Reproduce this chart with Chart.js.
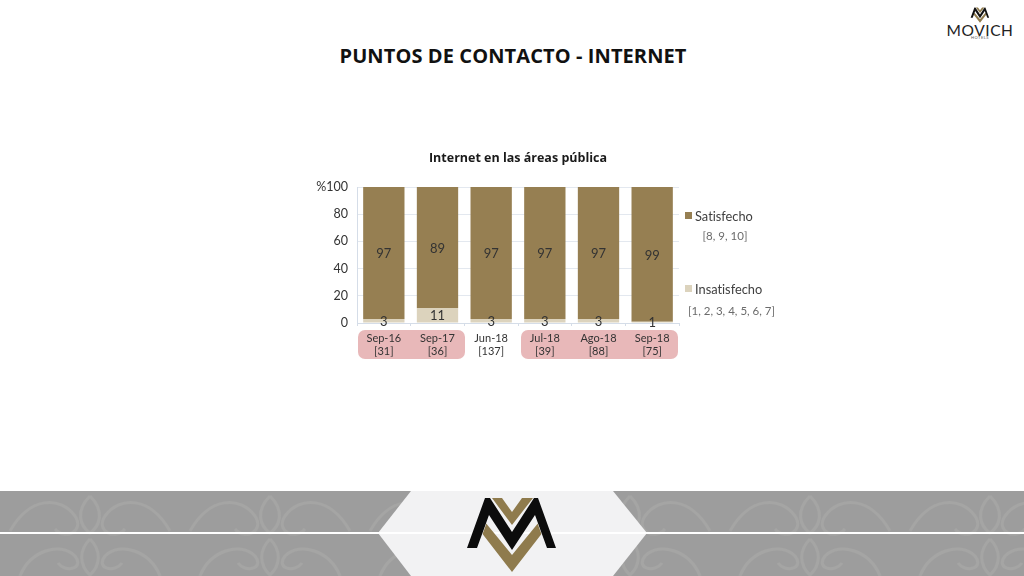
<!DOCTYPE html>
<html lang="es">
<head>
<meta charset="utf-8">
<title>Puntos de contacto - Internet</title>
<script src="https://cdn.jsdelivr.net/npm/chart.js@4"></script>
<style>
  html, body { margin: 0; padding: 0; background: #fff; }
  #page { position: relative; width: 1024px; height: 576px; overflow: hidden; font-family: Lato, "Open Sans", sans-serif; font-variant-ligatures: none; }
  #page > * { position: absolute; }
  #grafico { left: 0; top: 0; width: 1024px; height: 576px; }
  h1 { margin: 0; left: 0; width: 1026px; top: 42px; text-align: center; font: bold 20px/28px "Open Sans", sans-serif; color: #111; letter-spacing: .1px; }
  .pill { background: #e8b8b9; border-radius: 7px; top: 330px; height: 29px; }
  .leg { font-size: 12.8px; color: #404040; white-space: nowrap; }
  .leg i { position: absolute; left: 0; top: 4px; width: 7px; height: 7px; }
  .leg span { position: absolute; left: 10px; top: 0; }
  .sub { font-size: 11.5px; color: #6b6b6b; text-align: center; white-space: nowrap; }
  .marca { left: 940px; top: 22px; width: 80px; text-align: center; font: 15.5px/16px Lato, sans-serif; color: #222; letter-spacing: .6px; }
  .hoteles { left: 940px; top: 36px; width: 80px; text-align: center; font: 4px/4px Lato, sans-serif; color: #555; letter-spacing: .5px; }
</style>
</head>
<body>
<div id="page">
  <h1>PUNTOS DE CONTACTO - INTERNET</h1>

  <svg style="left:970px;top:7px" width="20" height="16" viewBox="466 496 92 77">
    <polygon points="492,498 502,498 512,512 522,498 533,498 512,525" fill="#8f7b4d"/>
    <polygon points="485,522 512,555 539,522 543,532 512,572 481,532" fill="#8f7b4d"/>
    <polygon points="467,548 485,498 490,498 512,532 534,498 538,498 556,548 547,548 535,515 512,550 489,515 477,548" fill="#111"/>
  </svg>
  <div class="marca">MOVICH</div>
  <div class="hoteles">HOTELS</div>

  <div class="pill" style="left:358px;width:107px"></div>
  <div class="pill" style="left:521px;width:157px"></div>

  <svg style="left:0;top:491px" width="1024" height="85" viewBox="0 491 1024 85">
    <defs>
      <pattern id="damasco" x="0" y="491" width="180" height="85" patternUnits="userSpaceOnUse">
        <g fill="none" stroke="#a5a5a4" stroke-width="3">
          <path d="M10 40 C30 5 60 5 75 25 C85 40 65 50 55 38"/>
          <path d="M170 40 C150 5 120 5 105 25 C95 40 115 50 125 38"/>
          <path d="M90 5 C75 20 80 35 90 42 C100 35 105 20 90 5"/>
          <path d="M20 85 C30 60 60 50 75 65 C85 78 65 82 58 72"/>
          <path d="M160 85 C150 60 120 50 105 65 C95 78 115 82 122 72"/>
          <path d="M90 48 C78 60 80 75 90 84 C100 75 102 60 90 48"/>
        </g>
      </pattern>
    </defs>
    <rect x="0" y="491" width="1024" height="85" fill="#9d9d9d"/>
    <rect x="0" y="491" width="1024" height="85" fill="url(#damasco)"/>
    <polygon points="411,491 613,491 647,533 613,576 411,576 378,533" fill="#f2f2f3"/>
    <rect x="0" y="532" width="1024" height="2" fill="#fff"/>
    <polygon points="492,498 502,498 512,512 522,498 533,498 512,525" fill="#8f7b4d"/>
    <polygon points="485,522 512,555 539,522 543,532 512,572 481,532" fill="#8f7b4d"/>
    <polygon points="467,548 485,498 490,498 512,532 534,498 538,498 556,548 547,548 535,515 512,550 489,515 477,548" fill="#0c0c0c" stroke="#f2f2f3" stroke-width="1" paint-order="stroke"/>
  </svg>

  <canvas id="grafico" width="1024" height="576"></canvas>

  <div class="leg" style="left:685px;top:208px"><i id="c0"></i><span id="l0"></span></div>
  <div class="sub" style="left:685px;width:80px;top:229px" id="s0"></div>
  <div class="leg" style="left:685px;top:281px"><i id="c1"></i><span id="l1"></span></div>
  <div class="sub" style="left:685px;width:93px;top:304px" id="s1"></div>
</div>

<script>
const meses = ['Sep-16', 'Sep-17', 'Jun-18', 'Jul-18', 'Ago-18', 'Sep-18'];
const bases = ['[31]', '[36]', '[137]', '[39]', '[88]', '[75]'];
const satisfecho = [97, 89, 97, 97, 97, 99];
const insatisfecho = [3, 11, 3, 3, 3, 1];
const ticksY = [0, 20, 40, 60, 80, 100];
const colorSat = '#967f52';
const colorIns = '#dcd3bd';

document.getElementById('l0').textContent = 'Satisfecho';
document.getElementById('s0').textContent = '[8, 9, 10]';
document.getElementById('c0').style.background = colorSat;
document.getElementById('l1').textContent = 'Insatisfecho';
document.getElementById('s1').textContent = '[1, 2, 3, 4, 5, 6, 7]';
document.getElementById('c1').style.background = colorIns;

// numeros encima de cada barra
const etiquetas = {
  id: 'etiquetas',
  afterDatasetsDraw(chart) {
    const ctx = chart.ctx;
    ctx.save();
    ctx.font = '13px Lato, sans-serif';
    ctx.fillStyle = '#333';
    ctx.textAlign = 'center';
    ctx.textBaseline = 'middle';
    chart.data.datasets.forEach(function(ds, i) {
      chart.getDatasetMeta(i).data.forEach(function(bar, j) {
        ctx.fillText(ds.data[j], bar.x, (bar.y + bar.base) / 2 + 1);
      });
    });
    ctx.restore();
  }
};

new Chart(document.getElementById('grafico'), {
  type: 'bar',
  data: {
    labels: meses.map((m, i) => [m, bases[i]]),
    datasets: [
      { label: 'Insatisfecho', data: insatisfecho, backgroundColor: colorIns },
      { label: 'Satisfecho', data: satisfecho, backgroundColor: colorSat }
    ]
  },
  plugins: [etiquetas],
  options: {
    responsive: false,
    animation: false,
    layout: { padding: { left: 300, right: 345, top: 151, bottom: 200 } },
    datasets: { bar: { categoryPercentage: 1, barPercentage: 0.77 } },
    plugins: {
      legend: { display: false },
      tooltip: { enabled: false },
      title: {
        display: true,
        fullSize: false,
        text: 'Internet en las áreas pública',
        color: '#1a1a1a',
        font: { family: 'Open Sans', size: 12.5, weight: 'bold' },
        padding: { top: 0, bottom: 21 }
      }
    },
    scales: {
      x: {
        stacked: true,
        afterFit: s => { s.height = 53; },
        grid: { drawOnChartArea: false, color: '#d5dde8', tickLength: 3 },
        border: { color: '#d5dde8' },
        ticks: { color: '#333', font: { family: 'Lato', size: 11 }, padding: 6, maxRotation: 0, autoSkip: false }
      },
      y: {
        stacked: true,
        min: 0,
        max: 100,
        afterFit: s => { s.width = 57; },
        afterBuildTicks: s => { s.ticks = ticksY.map(v => ({ value: v })); },
        grid: { color: '#e3e8ef', tickLength: 0 },
        border: { color: '#d5dde8', dash: [] },
        ticks: {
          color: '#333',
          font: { family: 'Lato', size: 12.5 },
          padding: 9,
          callback: v => v === 100 ? '%100' : v
        }
      }
    }
  }
});
</script>
</body>
</html>
